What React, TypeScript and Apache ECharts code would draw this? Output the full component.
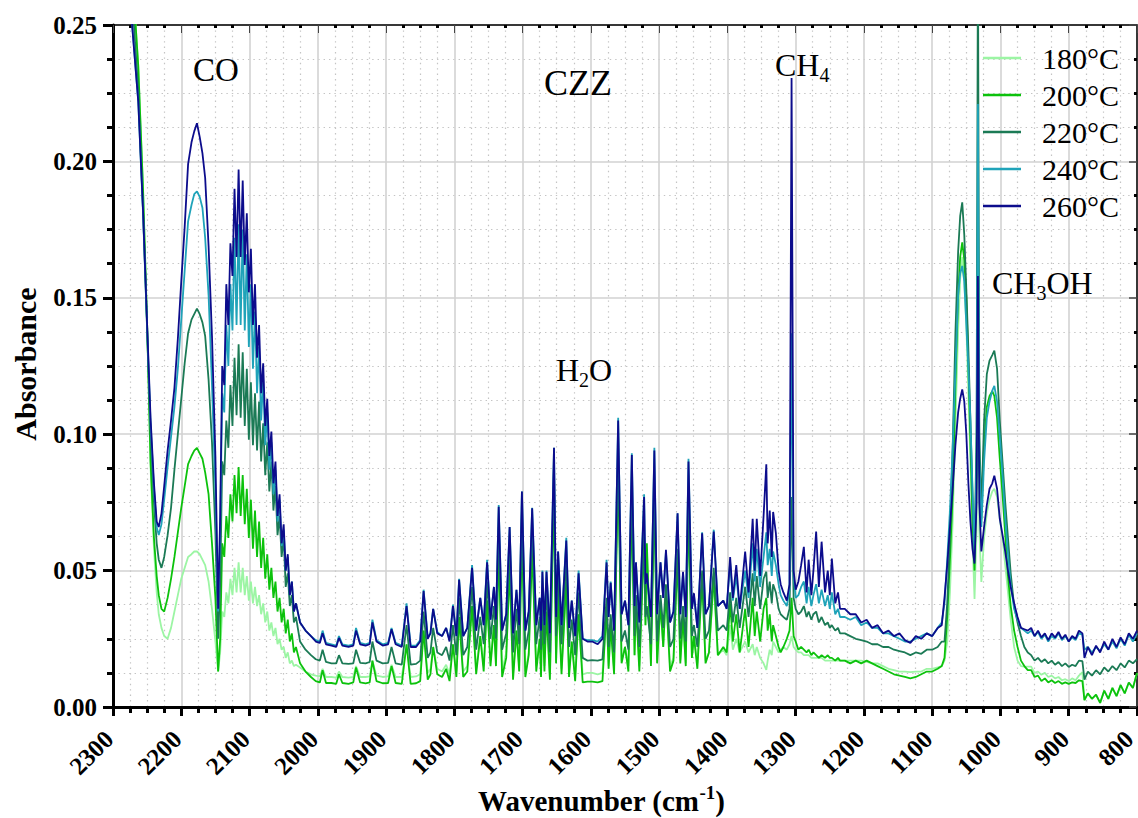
import React, { useEffect, useRef } from 'react';
import * as echarts from 'echarts';

// Wavenumber grid (cm-1), shared by all series, from 2300 down to 800
const wavenumber = [
  // CO P-branch
  2300, 2285, 2272, 2263, 2256, 2250, 2245, 2240, 2236, 2233, 2229, 2225, 2220, 2215, 2210, 2205, 2200, 2195, 2190, 2185, 2181, 2177, 2173, 2169, 2165, 2160, 2155, 2150, 2146,
  // CO R-branch
  2143, 2140, 2137, 2134, 2131, 2128, 2125, 2122, 2119, 2116,
  2113, 2110, 2107, 2104, 2101, 2098, 2095, 2092, 2089, 2086,
  2083, 2080, 2077, 2074, 2071, 2068, 2065, 2062, 2059, 2056,
  2053, 2050, 2047, 2044, 2041, 2038, 2035, 2032,
  // H2O lines, upper part
  2026, 2018, 2010, 2003, 1997, 1993, 1988, 1980, 1973, 1969,
  1964, 1955, 1948, 1944, 1938, 1930, 1924, 1920, 1914, 1905,
  1897, 1892, 1886, 1877, 1870, 1864, 1856, 1850, 1845, 1839,
  1835, 1831, 1825, 1818, 1812, 1807, 1802, 1797, 1793, 1787,
  1781, 1774, 1768, 1762, 1757, 1752, 1747, 1742, 1739, 1735,
  1730, 1724, 1719, 1714, 1709, 1705, 1701, 1696, 1691, 1686,
  1680, 1675, 1673, 1671, 1668, 1665, 1660, 1654, 1651, 1648,
  1643, 1636, 1632, 1628, 1623, 1618, 1612, 1605, 1598, 1590, 1583,
  // H2O lines, lower part + CH4
  1577, 1574, 1571, 1566, 1560, 1555, 1550, 1545, 1540, 1536,
  1534, 1529, 1522, 1520, 1518, 1512, 1507, 1503, 1498, 1494,
  1490, 1484, 1479, 1473, 1469, 1465, 1461, 1457, 1452, 1449,
  1444, 1437, 1432, 1427, 1420, 1414, 1406, 1401, 1396, 1392,
  1387, 1382, 1374, 1369, 1363, 1360, 1357, 1352, 1347, 1343,
  1341, 1338, 1335, 1333, 1329, 1325, 1322, 1318, 1313, 1309,
  1306, 1303,
  // after CH4
  1300, 1296, 1292, 1288, 1284, 1281, 1277, 1274, 1270, 1266,
  1262, 1257, 1253, 1250, 1247, 1242, 1238, 1235, 1228, 1220,
  1212, 1204, 1196, 1188, 1180, 1172, 1164, 1156, 1148, 1140,
  1132, 1124, 1116, 1108, 1100, 1092, 1086,
  // CH3OH
  1082, 1078, 1074, 1070, 1066, 1062, 1059, 1056, 1053, 1050,
  1047, 1044, 1041, 1038, 1035, 1033, 1031, 1028, 1024, 1020,
  1016, 1012, 1009, 1005, 1001, 997, 993, 989, 985, 980,
  975, 970, 965, 960,
  // tail
  955, 950, 945, 940, 935, 930, 925, 920, 915, 910,
  905, 900, 895, 890, 885, 880, 877, 872, 866, 860,
  854, 848, 842, 836, 830, 824, 818, 812, 806, 800,
];

const abs260 = [
  0.40, 0.33, 0.25, 0.222, 0.182, 0.14, 0.106, 0.082, 0.068, 0.066, 0.071, 0.081, 0.094, 0.105, 0.117, 0.135, 0.156, 0.176, 0.199, 0.207, 0.211, 0.214, 0.209, 0.203, 0.194, 0.169, 0.136, 0.092, 0.036,
  0.07, 0.125, 0.118, 0.155, 0.14, 0.17, 0.158, 0.19, 0.165, 0.197,
  0.165, 0.193, 0.162, 0.181, 0.152, 0.168, 0.14, 0.155, 0.128, 0.14,
  0.115, 0.126, 0.103, 0.113, 0.092, 0.101, 0.082, 0.09, 0.07, 0.078,
  0.06, 0.067, 0.05, 0.056, 0.041, 0.046, 0.035, 0.038,
  0.031, 0.028, 0.026, 0.024, 0.0235, 0.027, 0.023, 0.0225, 0.022, 0.0253,
  0.0225, 0.022, 0.0225, 0.028, 0.023, 0.0225, 0.023, 0.031, 0.024, 0.0225,
  0.023, 0.0285, 0.023, 0.022, 0.037, 0.022, 0.022, 0.024, 0.0425, 0.025,
  0.027, 0.036, 0.027, 0.026, 0.029, 0.024, 0.037, 0.026, 0.0466, 0.026,
  0.029, 0.051, 0.028, 0.040, 0.030, 0.053, 0.032, 0.044, 0.032, 0.0734,
  0.028, 0.034, 0.066, 0.027, 0.043, 0.030, 0.079, 0.028, 0.035, 0.0728,
  0.030, 0.040, 0.028, 0.0496, 0.030, 0.0496, 0.027, 0.095, 0.033, 0.057,
  0.030, 0.061, 0.029, 0.039, 0.026, 0.049, 0.025, 0.024, 0.024, 0.023, 0.025,
  0.053, 0.033, 0.0455, 0.028, 0.105, 0.034, 0.039, 0.030, 0.0924, 0.037,
  0.053, 0.031, 0.077, 0.045, 0.049, 0.033, 0.094, 0.034, 0.053, 0.040,
  0.0576, 0.031, 0.035, 0.071, 0.034, 0.0496, 0.033, 0.090, 0.036, 0.0417,
  0.029, 0.0637, 0.034, 0.037, 0.0643, 0.037, 0.039, 0.036, 0.055, 0.040,
  0.052, 0.036, 0.057, 0.042, 0.069, 0.050, 0.069, 0.048, 0.070, 0.089,
  0.060, 0.072, 0.055, 0.0715, 0.0637, 0.050, 0.045, 0.042, 0.039, 0.045,
  0.2306, 0.050,
  0.043, 0.046, 0.052, 0.0587, 0.042, 0.054, 0.041, 0.050, 0.0643, 0.044,
  0.0606, 0.042, 0.050, 0.041, 0.0544, 0.038, 0.042, 0.036, 0.036, 0.034,
  0.034, 0.031, 0.032, 0.029, 0.030, 0.027, 0.028, 0.026, 0.027, 0.0245,
  0.0235, 0.026, 0.025, 0.027, 0.026, 0.029, 0.030,
  0.040, 0.052, 0.066, 0.080, 0.096, 0.108, 0.113, 0.1164, 0.112, 0.100,
  0.082, 0.068, 0.058, 0.0526, 0.075, 0.158, 0.075, 0.057, 0.066, 0.074,
  0.080, 0.082, 0.0848, 0.080, 0.069, 0.063, 0.057, 0.050, 0.044, 0.038,
  0.033, 0.029, 0.0285, 0.028,
  0.029, 0.026, 0.028, 0.0255, 0.027, 0.0245, 0.027, 0.0255, 0.0275, 0.025,
  0.0265, 0.024, 0.026, 0.025, 0.028, 0.027, 0.018, 0.022, 0.019, 0.0225,
  0.020, 0.024, 0.021, 0.025, 0.022, 0.0255, 0.023, 0.027, 0.025, 0.028,
];

const abs240 = [
  0.40, 0.33, 0.25, 0.222, 0.181, 0.139, 0.104, 0.080, 0.066, 0.063, 0.067, 0.076, 0.088, 0.099, 0.110, 0.124, 0.142, 0.160, 0.178, 0.184, 0.188, 0.189, 0.187, 0.183, 0.172, 0.151, 0.118, 0.080, 0.035,
  0.065, 0.115, 0.108, 0.14, 0.125, 0.155, 0.138, 0.172, 0.14, 0.177,
  0.14, 0.175, 0.138, 0.166, 0.132, 0.155, 0.124, 0.145, 0.115, 0.132,
  0.105, 0.12, 0.096, 0.108, 0.087, 0.097, 0.078, 0.087, 0.068, 0.076,
  0.059, 0.065, 0.05, 0.055, 0.041, 0.046, 0.035, 0.038,
  0.031, 0.028, 0.026, 0.0245, 0.024, 0.028, 0.0235, 0.023, 0.0225, 0.026,
  0.023, 0.0225, 0.023, 0.029, 0.0235, 0.023, 0.0235, 0.032, 0.0245, 0.023,
  0.0235, 0.029, 0.0235, 0.0225, 0.038, 0.0225, 0.0225, 0.0245, 0.043, 0.0255,
  0.027, 0.036, 0.0275, 0.026, 0.029, 0.0245, 0.0375, 0.026, 0.047, 0.026,
  0.029, 0.052, 0.028, 0.040, 0.030, 0.054, 0.032, 0.044, 0.032, 0.074,
  0.028, 0.034, 0.066, 0.027, 0.043, 0.030, 0.079, 0.028, 0.035, 0.073,
  0.030, 0.040, 0.028, 0.050, 0.030, 0.050, 0.027, 0.095, 0.033, 0.057,
  0.030, 0.062, 0.029, 0.039, 0.026, 0.050, 0.025, 0.0245, 0.0245, 0.024, 0.026,
  0.054, 0.033, 0.046, 0.028, 0.106, 0.034, 0.039, 0.030, 0.093, 0.037,
  0.053, 0.031, 0.078, 0.045, 0.049, 0.033, 0.095, 0.034, 0.053, 0.040,
  0.057, 0.031, 0.035, 0.071, 0.034, 0.049, 0.033, 0.091, 0.036, 0.041,
  0.029, 0.064, 0.034, 0.037, 0.065, 0.037, 0.039, 0.036, 0.053, 0.039,
  0.048, 0.036, 0.050, 0.040, 0.060, 0.046, 0.058, 0.044, 0.055, 0.064,
  0.052, 0.058, 0.048, 0.057, 0.052, 0.045, 0.041, 0.039, 0.037, 0.043,
  0.137, 0.048,
  0.040, 0.041, 0.044, 0.046, 0.038, 0.044, 0.037, 0.041, 0.045, 0.038,
  0.043, 0.037, 0.041, 0.036, 0.042, 0.034, 0.036, 0.033, 0.033, 0.032,
  0.033, 0.030, 0.031, 0.029, 0.029, 0.027, 0.027, 0.026, 0.025, 0.024,
  0.024, 0.025, 0.026, 0.027, 0.026, 0.029, 0.031,
  0.038, 0.054, 0.072, 0.095, 0.123, 0.151, 0.159, 0.1617, 0.156, 0.140,
  0.124, 0.105, 0.080, 0.056, 0.090, 0.221, 0.090, 0.066, 0.090, 0.106,
  0.112, 0.116, 0.1177, 0.112, 0.099, 0.085, 0.069, 0.056, 0.045, 0.036,
  0.032, 0.029, 0.028, 0.027,
  0.028, 0.026, 0.0275, 0.025, 0.0265, 0.024, 0.026, 0.025, 0.027, 0.0245,
  0.026, 0.024, 0.0255, 0.0245, 0.027, 0.0265, 0.021, 0.022, 0.020, 0.022,
  0.0205, 0.023, 0.021, 0.024, 0.0215, 0.025, 0.0225, 0.0265, 0.024, 0.027,
];

const abs220 = [
  0.40, 0.34, 0.26, 0.226, 0.182, 0.138, 0.100, 0.075, 0.060, 0.054, 0.051, 0.055, 0.063, 0.073, 0.087, 0.100, 0.113, 0.126, 0.137, 0.142, 0.144, 0.146, 0.144, 0.141, 0.136, 0.120, 0.097, 0.064, 0.025,
  0.045, 0.09, 0.085, 0.105, 0.095, 0.118, 0.103, 0.128, 0.107, 0.133,
  0.106, 0.13, 0.103, 0.124, 0.098, 0.119, 0.096, 0.115, 0.094, 0.112,
  0.09, 0.104, 0.085, 0.097, 0.079, 0.09, 0.072, 0.081, 0.063, 0.07,
  0.055, 0.062, 0.044, 0.049, 0.037, 0.041, 0.031, 0.033,
  0.024, 0.021, 0.019, 0.0175, 0.017, 0.021, 0.0165, 0.016, 0.016, 0.019,
  0.016, 0.0158, 0.016, 0.021, 0.0162, 0.016, 0.0165, 0.024, 0.017, 0.016,
  0.0162, 0.022, 0.016, 0.0155, 0.030, 0.0155, 0.0158, 0.017, 0.035, 0.018,
  0.020, 0.029, 0.020, 0.019, 0.022, 0.017, 0.030, 0.019, 0.040, 0.019,
  0.022, 0.044, 0.021, 0.033, 0.023, 0.046, 0.025, 0.037, 0.025, 0.066,
  0.021, 0.027, 0.059, 0.020, 0.036, 0.023, 0.072, 0.021, 0.028, 0.066,
  0.023, 0.033, 0.021, 0.043, 0.023, 0.043, 0.020, 0.088, 0.026, 0.050,
  0.023, 0.054, 0.022, 0.032, 0.019, 0.042, 0.018, 0.017, 0.0172, 0.017, 0.0175,
  0.040, 0.022, 0.034, 0.020, 0.092, 0.024, 0.028, 0.021, 0.080, 0.026,
  0.041, 0.022, 0.064, 0.033, 0.037, 0.023, 0.081, 0.024, 0.041, 0.029,
  0.045, 0.022, 0.025, 0.058, 0.025, 0.037, 0.024, 0.077, 0.026, 0.030,
  0.022, 0.050, 0.025, 0.028, 0.051, 0.028, 0.030, 0.028, 0.042, 0.031,
  0.040, 0.029, 0.044, 0.033, 0.049, 0.037, 0.048, 0.036, 0.047, 0.0496,
  0.040, 0.046, 0.038, 0.045, 0.042, 0.036, 0.034, 0.033, 0.032, 0.036,
  0.077, 0.040,
  0.036, 0.034, 0.035, 0.037, 0.033, 0.035, 0.032, 0.034, 0.035, 0.031,
  0.033, 0.030, 0.031, 0.029, 0.030, 0.028, 0.029, 0.027, 0.027, 0.026,
  0.025, 0.0245, 0.024, 0.023, 0.023, 0.022, 0.022, 0.021, 0.0205, 0.020,
  0.019, 0.020, 0.0195, 0.021, 0.021, 0.022, 0.024,
  0.024, 0.038, 0.062, 0.095, 0.137, 0.167, 0.180, 0.185, 0.173, 0.153,
  0.131, 0.105, 0.078, 0.057, 0.100, 0.280, 0.100, 0.072, 0.105, 0.122,
  0.127, 0.129, 0.1306, 0.124, 0.105, 0.090, 0.075, 0.062, 0.049, 0.037,
  0.031, 0.026, 0.022, 0.020,
  0.019, 0.017, 0.018, 0.0165, 0.0175, 0.016, 0.017, 0.0155, 0.0165, 0.015,
  0.016, 0.0147, 0.0155, 0.015, 0.017, 0.0168, 0.010, 0.013, 0.0115, 0.0135,
  0.012, 0.0145, 0.013, 0.015, 0.0135, 0.016, 0.0145, 0.017, 0.016, 0.0175,
];

const abs200 = [
  0.40, 0.34, 0.27, 0.235, 0.19, 0.14, 0.09, 0.062, 0.048, 0.041, 0.036, 0.035, 0.040, 0.047, 0.055, 0.064, 0.073, 0.081, 0.089, 0.092, 0.094, 0.095, 0.093, 0.091, 0.086, 0.078, 0.060, 0.040, 0.013,
  0.025, 0.06, 0.055, 0.07, 0.062, 0.078, 0.068, 0.085, 0.071, 0.088,
  0.07, 0.085, 0.067, 0.08, 0.062, 0.076, 0.058, 0.072, 0.055, 0.068,
  0.051, 0.062, 0.047, 0.056, 0.043, 0.051, 0.04, 0.046, 0.035, 0.04,
  0.031, 0.036, 0.027, 0.032, 0.024, 0.027, 0.02, 0.022,
  0.016, 0.013, 0.011, 0.0095, 0.009, 0.0135, 0.0088, 0.0088, 0.0085, 0.012,
  0.0088, 0.0085, 0.009, 0.0145, 0.009, 0.0087, 0.009, 0.017, 0.0095, 0.0087,
  0.0088, 0.015, 0.0088, 0.0085, 0.023, 0.0085, 0.0087, 0.0095, 0.028, 0.010,
  0.012, 0.022, 0.012, 0.011, 0.014, 0.0095, 0.023, 0.011, 0.033, 0.011,
  0.013, 0.037, 0.012, 0.026, 0.013, 0.039, 0.015, 0.030, 0.015, 0.058,
  0.011, 0.018, 0.051, 0.010, 0.028, 0.013, 0.064, 0.011, 0.019, 0.058,
  0.013, 0.025, 0.011, 0.035, 0.013, 0.035, 0.010, 0.080, 0.016, 0.042,
  0.012, 0.046, 0.011, 0.024, 0.0095, 0.034, 0.009, 0.0093, 0.0093, 0.009, 0.0095,
  0.036, 0.014, 0.030, 0.012, 0.088, 0.016, 0.022, 0.013, 0.075, 0.019,
  0.038, 0.013, 0.062, 0.030, 0.060, 0.015, 0.078, 0.016, 0.038, 0.022,
  0.042, 0.013, 0.017, 0.055, 0.016, 0.033, 0.015, 0.073, 0.018, 0.026,
  0.014, 0.047, 0.016, 0.020, 0.048, 0.019, 0.022, 0.020, 0.038, 0.024,
  0.034, 0.020, 0.036, 0.022, 0.040, 0.026, 0.035, 0.024, 0.036, 0.040,
  0.028, 0.034, 0.024, 0.030, 0.026, 0.022, 0.020, 0.022, 0.025, 0.028,
  0.040, 0.026,
  0.024, 0.021, 0.022, 0.021, 0.020, 0.021, 0.019, 0.020, 0.019, 0.018,
  0.019, 0.018, 0.019, 0.018, 0.018, 0.017, 0.018, 0.017, 0.017, 0.016,
  0.017, 0.016, 0.017, 0.016, 0.015, 0.014, 0.013, 0.012, 0.0115, 0.011,
  0.0105, 0.011, 0.012, 0.013, 0.013, 0.014, 0.015,
  0.018, 0.033, 0.054, 0.078, 0.118, 0.151, 0.165, 0.1703, 0.164, 0.150,
  0.125, 0.097, 0.068, 0.050, 0.085, 0.190, 0.090, 0.0687, 0.096, 0.110,
  0.114, 0.1158, 0.114, 0.106, 0.091, 0.078, 0.063, 0.048, 0.037, 0.028,
  0.022, 0.017, 0.015, 0.0135,
  0.0135, 0.011, 0.0115, 0.0095, 0.0105, 0.009, 0.0098, 0.0088, 0.0095, 0.0085,
  0.009, 0.0085, 0.009, 0.0088, 0.0098, 0.0095, 0.0025, 0.005, 0.003, 0.0045,
  0.0015, 0.006, 0.003, 0.007, 0.004, 0.008, 0.005, 0.009, 0.007, 0.0125,
];

const abs180 = [
  0.40, 0.34, 0.27, 0.235, 0.19, 0.14, 0.088, 0.058, 0.042, 0.034, 0.029, 0.026, 0.025, 0.029, 0.035, 0.041, 0.047, 0.051, 0.055, 0.056, 0.057, 0.057, 0.056, 0.054, 0.052, 0.046, 0.036, 0.024, 0.013,
  0.02, 0.035, 0.033, 0.042, 0.038, 0.047, 0.041, 0.051, 0.042, 0.053,
  0.042, 0.051, 0.041, 0.048, 0.039, 0.046, 0.038, 0.044, 0.037, 0.041,
  0.034, 0.038, 0.031, 0.035, 0.028, 0.031, 0.026, 0.029, 0.023, 0.025,
  0.021, 0.022, 0.018, 0.02, 0.016, 0.017, 0.015, 0.0155,
  0.0145, 0.013, 0.012, 0.0115, 0.0112, 0.014, 0.011, 0.011, 0.0108, 0.013,
  0.011, 0.0108, 0.011, 0.015, 0.011, 0.011, 0.0112, 0.017, 0.0115, 0.011,
  0.0112, 0.0155, 0.011, 0.011, 0.023, 0.011, 0.0112, 0.012, 0.028, 0.0125,
  0.014, 0.022, 0.014, 0.013, 0.0155, 0.012, 0.023, 0.013, 0.033, 0.013,
  0.015, 0.037, 0.014, 0.026, 0.015, 0.039, 0.017, 0.030, 0.017, 0.058,
  0.013, 0.020, 0.051, 0.012, 0.028, 0.015, 0.064, 0.013, 0.020, 0.058,
  0.015, 0.025, 0.013, 0.035, 0.015, 0.035, 0.012, 0.080, 0.017, 0.042,
  0.014, 0.046, 0.013, 0.024, 0.012, 0.034, 0.012, 0.0125, 0.0125, 0.012, 0.0125,
  0.036, 0.015, 0.030, 0.014, 0.088, 0.017, 0.022, 0.015, 0.075, 0.019,
  0.038, 0.015, 0.062, 0.030, 0.058, 0.016, 0.078, 0.017, 0.038, 0.022,
  0.042, 0.015, 0.018, 0.055, 0.017, 0.033, 0.016, 0.073, 0.018, 0.026,
  0.016, 0.047, 0.017, 0.020, 0.046, 0.019, 0.021, 0.019, 0.030, 0.021,
  0.025, 0.020, 0.024, 0.020, 0.023, 0.019, 0.022, 0.018, 0.016, 0.0136,
  0.017, 0.021, 0.019, 0.024, 0.022, 0.020, 0.021, 0.022, 0.021, 0.023,
  0.026, 0.022,
  0.021, 0.020, 0.020, 0.019, 0.019, 0.019, 0.018, 0.018, 0.018, 0.018,
  0.018, 0.017, 0.017, 0.017, 0.017, 0.017, 0.017, 0.017, 0.017, 0.017,
  0.017, 0.017, 0.0165, 0.016, 0.016, 0.015, 0.014, 0.0135, 0.013, 0.013,
  0.0128, 0.013, 0.013, 0.014, 0.014, 0.0145, 0.015,
  0.017, 0.024, 0.042, 0.068, 0.104, 0.138, 0.157, 0.165, 0.156, 0.140,
  0.115, 0.090, 0.062, 0.0396, 0.065, 0.150, 0.065, 0.0458, 0.062, 0.071,
  0.076, 0.079, 0.080, 0.077, 0.069, 0.062, 0.052, 0.042, 0.032, 0.022,
  0.017, 0.015, 0.0148, 0.0148,
  0.0148, 0.0125, 0.013, 0.0118, 0.0125, 0.011, 0.0115, 0.0105, 0.011, 0.0098,
  0.0102, 0.0095, 0.0105, 0.0098, 0.0115, 0.0128, 0.0025, 0.005, 0.003, 0.0045,
  0.0015, 0.006, 0.003, 0.007, 0.004, 0.008, 0.005, 0.009, 0.007, 0.0125,
];

// x-axis tick labels (cm-1)
const xTickValues = [2300, 2200, 2100, 2000, 1900, 1800, 1700, 1600, 1500, 1400, 1300, 1200, 1100, 1000, 900, 800];

const seriesNames = ['180°C', '200°C', '220°C', '240°C', '260°C'];
const seriesColors = ['#9cf5a4', '#0cc20c', '#1b7a55', '#1fa3b9', '#0c0c8c'];
const seriesValues = [abs180, abs200, abs220, abs240, abs260];

const FONT = '"Liberation Serif", "Times New Roman", Times, serif';

// text pieces laid out left to right; sub/sup pieces are smaller and shifted
function richLine(
  parts: { t: string; sub?: boolean; sup?: boolean }[],
  left: number,
  cy: number,
  size: number,
  weight: 'normal' | 'bold' = 'normal'
) {
  const out: any[] = [];
  let x = left;
  const small = Math.round(size * 0.64);
  const ctx = document.createElement('canvas').getContext('2d')!;
  for (const p of parts) {
    const fs = p.sub || p.sup ? small : size;
    ctx.font = `${weight} ${fs}px ${FONT}`;
    const w = ctx.measureText(p.t).width;
    const y = p.sub ? cy + size * 0.3 : p.sup ? cy - size * 0.3 : cy;
    out.push({
      type: 'text',
      x,
      y,
      z: 20,
      style: { text: p.t, fontFamily: FONT, fontWeight: weight, fontSize: fs, fill: '#000', align: 'left', verticalAlign: 'middle' },
    });
    x += w;
  }
  return out;
}

export default function App() {
  const ref = useRef<HTMLDivElement>(null);

  useEffect(() => {
    document.body.style.margin = '0';
    if (!ref.current) return;
    const chart = echarts.init(ref.current, null, { renderer: 'svg' });

    const mismatch = seriesValues
      .map((v, i) => (v.length !== wavenumber.length ? `${seriesNames[i]}:${v.length}/${wavenumber.length}` : ''))
      .filter(Boolean)
      .join(' ');

    const gridLine = { show: true, lineStyle: { color: '#d2d2d2', width: 1.6 } };
    const minorGrid = { show: true, lineStyle: { color: '#c4c4c4', width: 1.2, type: [1.4, 4] as any } };
    const tickLabel = { fontFamily: FONT, fontWeight: 'bold' as const, fontSize: 25, color: '#000' };

    const staticGraphics: any[] = [
      ...richLine([{ t: 'CO' }], 193, 70, 33),
      ...richLine([{ t: 'CZZ' }], 544, 83, 36),
      ...richLine([{ t: 'CH' }, { t: '4', sub: true }], 775, 65, 32),
      ...richLine([{ t: 'H' }, { t: '2', sub: true }, { t: 'O' }], 556, 370, 32),
      ...richLine([{ t: 'CH' }, { t: '3', sub: true }, { t: 'OH' }], 992, 283, 32),
      // axis titles
      ...richLine([{ t: 'Wavenumber (cm' }, { t: '-1', sup: true }, { t: ')' }], 478, 801, 29, 'bold'),
      {
        type: 'text',
        x: 25,
        y: 364,
        rotation: Math.PI / 2,
        z: 20,
        style: { text: 'Absorbance', fontFamily: FONT, fontWeight: 'bold', fontSize: 30, fill: '#000', align: 'center', verticalAlign: 'middle' },
      },
      ...(mismatch
        ? [{ type: 'text', x: 300, y: 200, z: 50, style: { text: 'LEN ' + mismatch, fontSize: 20, fill: 'red' } }]
        : []),
    ];

    const option: any = {
      animation: false,
      grid: { left: 113, top: 25, width: 1024, height: 682, containLabel: false, outerBoundsMode: 'none' },
      legend: {
        data: seriesNames,
        orient: 'vertical',
        left: 983,
        top: 43,
        padding: 0,
        align: 'left',
        icon: 'rect',
        itemWidth: 38,
        itemHeight: 2.5,
        itemGap: 7,
        selectedMode: false,
        textStyle: { fontFamily: FONT, fontSize: 30, color: '#000', lineHeight: 30, padding: [0, 0, 0, 16] },
      },
      xAxis: [
        {
          type: 'value',
          min: 800,
          max: 2300,
          interval: 100,
          inverse: true,
          position: 'bottom',
          axisLine: { show: true, onZero: false, lineStyle: { color: '#000', width: 3 } },
          axisTick: { show: true, inside: false, length: 9, lineStyle: { color: '#000', width: 3 } },
          minorTick: { show: true, splitNumber: 4, length: 6, lineStyle: { color: '#000', width: 3 } },
          axisLabel: { show: false },
          splitLine: gridLine,
          minorSplitLine: minorGrid,
        },
        {
          type: 'value',
          min: 800,
          max: 2300,
          interval: 100,
          inverse: true,
          position: 'top',
          axisLine: { show: true, onZero: false, lineStyle: { color: '#000', width: 1.5 } },
          axisTick: { show: true, inside: true, length: 8, lineStyle: { color: '#444', width: 1 } },
          minorTick: { show: true, splitNumber: 4, length: 3, lineStyle: { color: '#000', width: 3 } },
          axisLabel: { show: false },
          splitLine: { show: false },
        },
      ],
      yAxis: [
        {
          type: 'value',
          min: 0,
          max: 0.25,
          interval: 0.05,
          position: 'left',
          axisLine: { show: true, onZero: false, lineStyle: { color: '#000', width: 3 } },
          axisTick: { show: true, inside: false, length: 10, lineStyle: { color: '#000', width: 3 } },
          minorTick: { show: true, splitNumber: 4, length: 6, lineStyle: { color: '#000', width: 3 } },
          axisLabel: { ...tickLabel, margin: 16, formatter: (v: number) => v.toFixed(2), showMinLabel: true, showMaxLabel: true },
          splitLine: gridLine,
          minorSplitLine: minorGrid,
        },
        {
          type: 'value',
          min: 0,
          max: 0.25,
          interval: 0.05,
          position: 'right',
          axisLine: { show: true, onZero: false, lineStyle: { color: '#000', width: 1.5 } },
          axisTick: { show: true, inside: true, length: 8, lineStyle: { color: '#444', width: 1.5 } },
          minorTick: { show: true, splitNumber: 4, length: 3, lineStyle: { color: '#000', width: 3 } },
          axisLabel: { show: false },
          splitLine: { show: false },
        },
      ],
      series: seriesValues.map((vals, i) => ({
        name: seriesNames[i],
        type: 'line',
        xAxisIndex: 0,
        yAxisIndex: 0,
        data: wavenumber.map((w, j) => [w, vals[j]]),
        showSymbol: false,
        symbol: 'none',
        clip: true,
        z: 2 + i,
        lineStyle: { width: 1.8, color: seriesColors[i] },
        itemStyle: { color: seriesColors[i] },
      })),
      graphic: staticGraphics,
    };

    chart.setOption(option);

    // rotated x tick labels, placed through the axis scale
    const axisY = chart.convertToPixel({ yAxisIndex: 0 }, 0) as number;
    const chartW = chart.getWidth();
    const tickGraphics = xTickValues.map((v) => {
      const px = chart.convertToPixel({ xAxisIndex: 0 }, v) as number;
      return {
        type: 'text',
        x: Math.min(px - 4, chartW - 9),
        y: axisY + 28,
        rotation: Math.PI / 4,
        z: 20,
        style: {
          text: String(v),
          fontFamily: FONT,
          fontWeight: 'bold',
          fontSize: 25,
          fill: '#000',
          align: 'right',
          verticalAlign: 'middle',
        },
      };
    });
    chart.setOption({ graphic: [...staticGraphics, ...tickGraphics] });

    return () => chart.dispose();
  }, []);

  return (
    <div
      ref={ref}
      style={{ position: 'absolute', left: 0, top: 0, width: 1138, height: 818, background: '#fff' }}
    />
  );
}
